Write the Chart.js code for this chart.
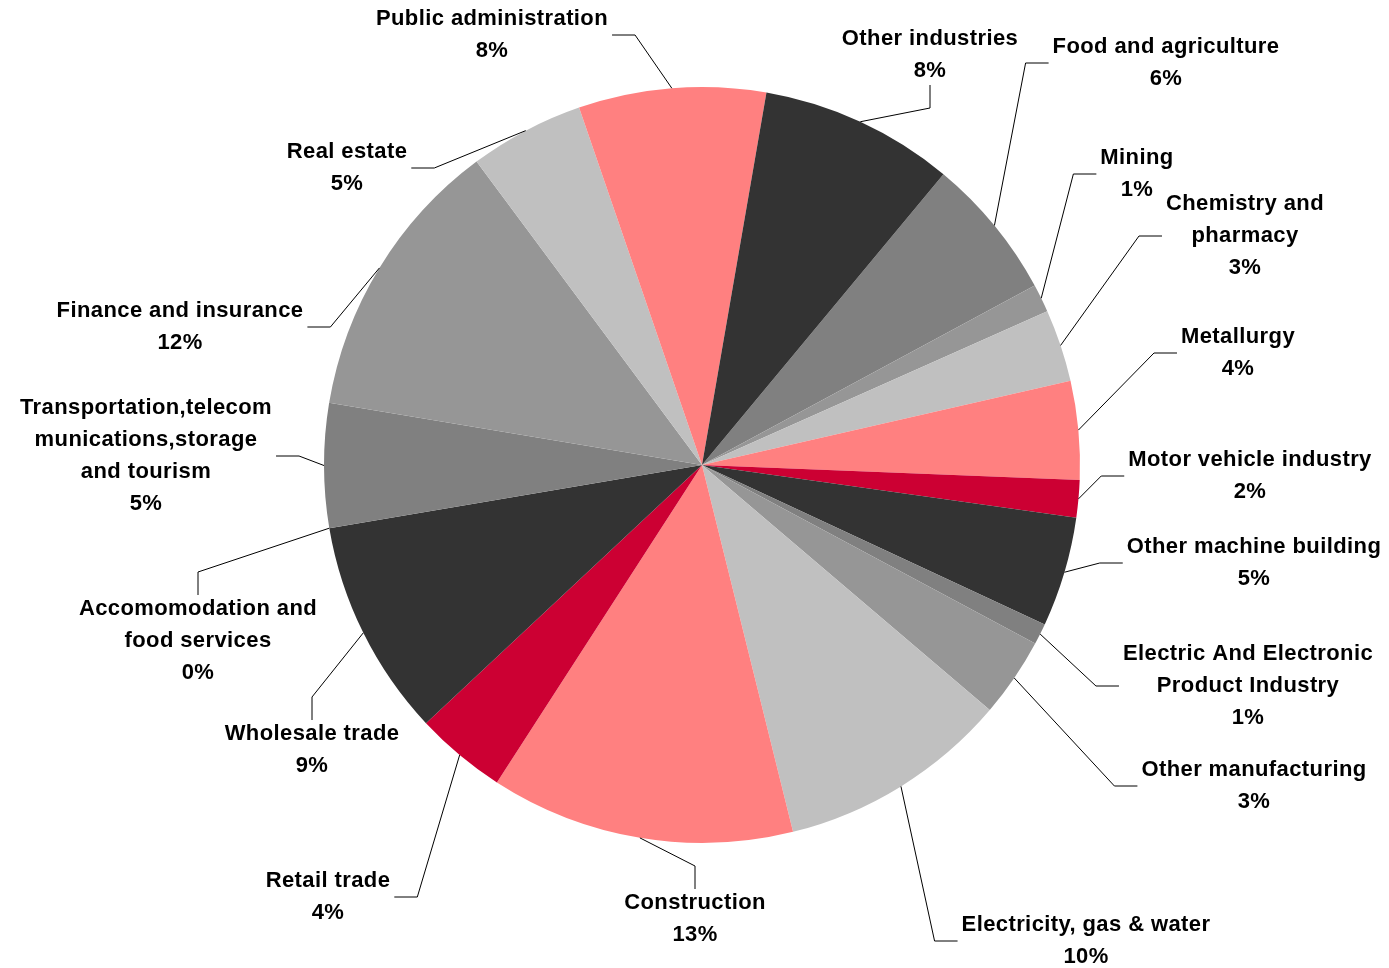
<!DOCTYPE html>
<html>
<head>
<meta charset="utf-8">
<title>Industry structure</title>
<script src="https://cdn.jsdelivr.net/npm/chart.js@4/dist/chart.umd.min.js"></script>
<style>
    html, body { margin: 0; padding: 0; background: #ffffff; }
    #wrap { width: 1389px; height: 968px; }
</style>
</head>
<body>
<div id="wrap"><canvas id="industryChart" width="1389" height="968"></canvas></div>
<script>
// Sector shares (percent)
const categories = [
    'Food and agriculture', 'Mining', 'Chemistry and pharmacy', 'Metallurgy',
    'Motor vehicle industry', 'Other machine building', 'Electric And Electronic Product Industry',
    'Other manufacturing', 'Electricity, gas & water', 'Construction', 'Retail trade',
    'Wholesale trade', 'Accomomodation and food services', 'Transportation,telecom munications,storage and tourism',
    'Finance and insurance', 'Real estate', 'Public administration', 'Other industries'
];
const shares = [6.1, 1.2, 3.1, 4.2, 1.6, 4.7, 0.9, 3.4, 9.9, 13.0, 3.9, 9.3, 0.0, 5.3, 12.2, 4.9, 8.0, 8.3];

// Label text lines, one list per slice
const labelLines = [
    ['Food and agriculture'],
    ['Mining'],
    ['Chemistry and', 'pharmacy'],
    ['Metallurgy'],
    ['Motor vehicle industry'],
    ['Other machine building'],
    ['Electric And Electronic', 'Product Industry'],
    ['Other manufacturing'],
    ['Electricity, gas & water'],
    ['Construction'],
    ['Retail trade'],
    ['Wholesale trade'],
    ['Accomomodation and', 'food services'],
    ['Transportation,telecom', 'munications,storage', 'and tourism'],
    ['Finance and insurance'],
    ['Real estate'],
    ['Public administration'],
    ['Other industries']
];

const sliceColors = [
    '#808080', '#969696', '#c0c0c0', '#ff8080', '#cc0033', '#333333',
    '#808080', '#969696', '#c0c0c0', '#ff8080', '#cc0033', '#333333',
    '#969696', '#808080', '#969696', '#c0c0c0', '#ff8080', '#333333'
];

// Label placement: x = text centre, y = centre of first line, side = where the leader attaches
const labelLayout = [
    { x: 1166, y: 47,  side: 'left' },
    { x: 1137, y: 158, side: 'left' },
    { x: 1245, y: 204, side: 'left' },
    { x: 1238, y: 337, side: 'left' },
    { x: 1250, y: 460, side: 'left' },
    { x: 1254, y: 547, side: 'left' },
    { x: 1248, y: 654, side: 'left' },
    { x: 1254, y: 770, side: 'left' },
    { x: 1086, y: 925, side: 'left' },
    { x: 695,  y: 903, side: 'top' },
    { x: 328,  y: 881, side: 'right' },
    { x: 312,  y: 734, side: 'top' },
    { x: 198,  y: 609, side: 'top' },
    { x: 146,  y: 408, side: 'right' },
    { x: 180,  y: 311, side: 'right' },
    { x: 347,  y: 152, side: 'right' },
    { x: 492,  y: 19,  side: 'right' },
    { x: 930,  y: 39,  side: 'bottom' }
];

const LINE_H = 32;
const ELBOW = 23;
const GAP = 4;

// Draws the outside labels with their leader lines
const outsideLabels = {
    id: 'outsideLabels',
    afterDatasetsDraw(chart) {
        const ctx = chart.ctx;
        const meta = chart.getDatasetMeta(0);
        const data = chart.data.datasets[0].data;
        const total = data.reduce((a, b) => a + b, 0);

        ctx.save();
        ctx.font = 'bold 22px "Liberation Sans", Arial, sans-serif';
        ctx.letterSpacing = '0.4px';
        ctx.textAlign = 'center';
        ctx.textBaseline = 'middle';

        meta.data.forEach(function(arc, i) {
            const p = arc.getProps(['x', 'y', 'startAngle', 'endAngle', 'outerRadius'], true);
            const mid = (p.startAngle + p.endAngle) / 2;
            const ax = p.x + Math.cos(mid) * p.outerRadius;
            const ay = p.y + Math.sin(mid) * p.outerRadius;

            const lines = labelLines[i].concat([Math.round(data[i] / total * 100) + '%']);
            const pos = labelLayout[i];
            const w = Math.max.apply(null, lines.map(t => ctx.measureText(t).width));
            const top = pos.y - LINE_H / 2;
            const bottom = top + lines.length * LINE_H;
            const cy = (top + bottom) / 2;

            let sx, sy, ex, ey;
            if (pos.side === 'left') {
                sx = pos.x - w / 2 - GAP; sy = cy; ex = sx - ELBOW; ey = sy;
            } else if (pos.side === 'right') {
                sx = pos.x + w / 2 + GAP; sy = cy; ex = sx + ELBOW; ey = sy;
            } else if (pos.side === 'top') {
                sx = pos.x; sy = top + 2; ex = sx; ey = sy - ELBOW;
            } else {
                sx = pos.x; sy = bottom - 2; ex = sx; ey = sy + ELBOW;
            }

            ctx.strokeStyle = '#000000';
            ctx.lineWidth = 1;
            ctx.beginPath();
            ctx.moveTo(sx, sy);
            ctx.lineTo(ex, ey);
            ctx.lineTo(ax, ay);
            ctx.stroke();

            ctx.fillStyle = '#000000';
            lines.forEach(function(t, k) {
                ctx.fillText(t, pos.x, pos.y + k * LINE_H);
            });
        });
        ctx.restore();
    }
};

new Chart(document.getElementById('industryChart'), {
    type: 'pie',
    data: {
        labels: categories,
        datasets: [{
            data: shares,
            backgroundColor: sliceColors,
            borderWidth: 0
        }]
    },
    options: {
        responsive: false,
        animation: false,
        rotation: 39.7,
        layout: {
            padding: { top: 87, bottom: 125, left: 309, right: 294 }
        },
        plugins: {
            legend: { display: false },
            tooltip: { enabled: false }
        }
    },
    plugins: [outsideLabels]
});
</script>
</body>
</html>
